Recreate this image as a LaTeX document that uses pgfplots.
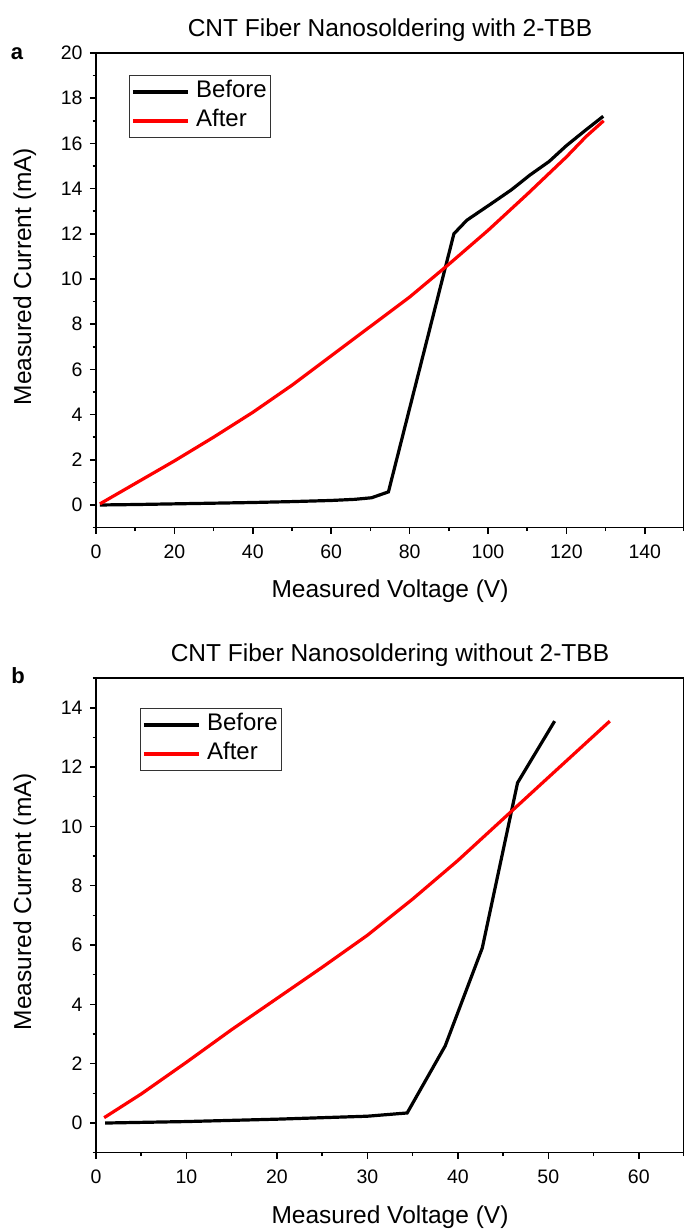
\documentclass[border=0pt]{standalone}
\usepackage{fontspec}
\setmainfont{Liberation Sans}
\usepackage{pgfplots}
\pgfplotsset{compat=1.18}
\begin{document}
\begin{tikzpicture}[x=1pt,y=1pt]
\useasboundingbox (0,0) rectangle (683,1230);
\pgfplotsset{
  myaxis/.style={
    scale only axis, width=588pt, height=474.6pt,
    axis line style={line width=1.6pt},
    xtick pos=bottom, ytick pos=left,
    tick align=outside,
    major tick length=6pt, minor tick length=3.5pt,
    every tick/.style={black, line width=1.5pt},
    tick label style={font=\fontsize{19.5}{22}\selectfont},
    xticklabel style={yshift=-8pt},
    yticklabel style={xshift=-4pt},
    /pgf/number format/assume math mode=true,
    xlabel style={font=\fontsize{24.5}{28}\selectfont, at={(0.5,-0.1483)}, anchor=base},
    ylabel style={font=\fontsize{24.5}{28}\selectfont, at={(-0.1105,0.529)}, anchor=base},
    title style={font=\fontsize{24.5}{28}\selectfont, at={(0.5,1.0044)}},
    xlabel={Measured Voltage (V)},
    ylabel={Measured Current (mA)},
    legend cell align=left,
    legend image code/.code={\draw[#1,line width=3.2pt] (0pt,0pt) -- (55pt,0pt);},
    legend style={draw=black!80, line width=0.8pt, font=\fontsize{24}{28}\selectfont,
      inner xsep=2pt, inner ysep=4pt, row sep=4pt, column sep=5pt,
      nodes={inner sep=1.5pt, text height=17pt, text depth=5pt}},
  },
  before/.style={black, line width=3.2pt},
  after/.style={red, line width=3.2pt},
}
\begin{axis}[myaxis, at={(96pt,702.4pt)}, anchor=south west,
  xmin=0, xmax=150, ymin=-1, ymax=20,
  xtick={0,20,...,140}, minor xtick={10,30,...,150},
  ytick={0,2,...,20}, minor ytick={-1,1,...,19},
  title={CNT Fiber Nanosoldering with 2-TBB},
  legend style={at={(0.0561,0.9536)}, anchor=north west}]
\addplot[before] coordinates {
(1,0) (10,0.02) (20,0.05) (30,0.08) (40,0.11) (50,0.15) (60,0.2) (66,0.25) (70.3,0.32) (74.6,0.58)
(91.3,12.0) (94.6,12.6) (101.4,13.4) (106,13.95) (110.7,14.6) (115.6,15.2) (120,15.9) (125,16.6) (129.4,17.2)};
\addlegendentry{Before}
\addplot[after] coordinates {
(1,0.05) (5,0.45) (10,0.95) (20,1.95) (30,3.0) (40,4.1) (50,5.3) (60,6.6) (70,7.9) (80,9.2)
(90,10.65) (100,12.15) (110,13.75) (120,15.4) (125,16.3) (129.5,17.0)};
\addlegendentry{After}
\end{axis}
\begin{axis}[myaxis, at={(96pt,77.3pt)}, anchor=south west,
  xmin=0, xmax=65, ymin=-1, ymax=15,
  xtick={0,10,...,60}, minor xtick={5,15,...,65},
  ytick={0,2,...,14}, minor ytick={-1,1,...,15},
  title={CNT Fiber Nanosoldering without 2-TBB},
  legend style={at={(0.0748,0.9368)}, anchor=north west}]
\addplot[before] coordinates {
(1,0) (10,0.05) (20,0.13) (30,0.23) (34.4,0.34) (38.6,2.6) (42.7,5.9) (46.6,11.47) (50.7,13.55)};
\addlegendentry{Before}
\addplot[after] coordinates {
(0.9,0.18) (5,0.98) (10,2.05) (15,3.15) (20,4.2) (25,5.25) (30,6.33) (35,7.55) (40,8.85)
(45,10.25) (50,11.65) (56.8,13.55)};
\addlegendentry{After}
\end{axis}
\node[font=\bfseries\fontsize{22}{24}\selectfont, anchor=base] at (17,1170) {a};
\node[font=\bfseries\fontsize{22}{24}\selectfont, anchor=base] at (18,546) {b};
\end{tikzpicture}
\end{document}
